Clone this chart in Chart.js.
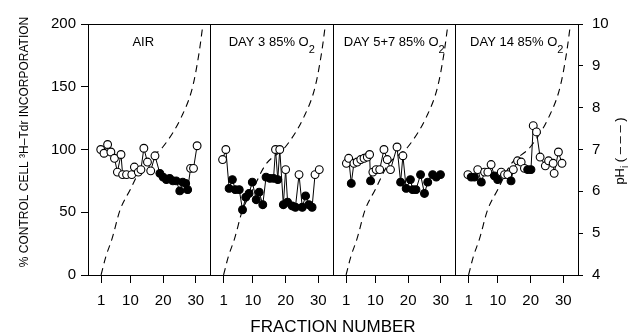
<!DOCTYPE html>
<html>
<head>
<meta charset="utf-8">
<script src="https://cdn.jsdelivr.net/npm/chart.js@4/dist/chart.umd.min.js"></script>
<style>
  html, body { margin: 0; padding: 0; background: #fff; }
  #wrap { width: 632px; height: 336px; }
</style>
</head>
<body>
<div id="wrap"><canvas id="chart" width="632" height="336"></canvas></div>
<script>
// ── DATA ──────────────────────────────────────────────────────────
const PANEL_TITLES = ['AIR', 'DAY 3 85% O', 'DAY 5+7 85% O', 'DAY 14 85% O'];
const PANEL_SUBS   = ['', '2', '2', '2'];
const FRACTION_TICKS = [1, 10, 20, 30];

// fill: 1 = filled circle, 0 = open circle
const airFrac = [0.9, 1.9, 3.0, 4.0, 5.1, 6.0, 7.1, 7.6, 8.8, 10.4, 11.2, 12.4, 13.2, 14.1, 15.2, 16.2, 17.5,
                 19.0, 20.0, 21.0, 22.0, 23.0, 24.0, 25.1, 26.0, 26.9, 27.5, 28.4, 29.3, 30.4];
const airVal  = [100, 97, 104, 98, 93, 82, 96, 80, 80, 80, 86, 82, 84, 101, 90, 83, 95,
                 81, 78, 76, 77, 75, 75, 67, 74, 73, 68, 85, 85, 103];
const airFill = [0, 0, 0, 0, 0, 0, 0, 0, 0, 0, 0, 0, 0, 0, 0, 0, 0,
                 1, 1, 1, 1, 1, 1, 1, 1, 1, 1, 0, 0, 0];

const day3Frac = [0.7, 1.7, 2.7, 3.7, 4.6, 5.8, 6.8, 7.8, 8.8, 9.8, 11.0, 11.9, 13.0, 14.0, 15.2, 16.3,
                  16.9, 17.6, 18.2, 19.3, 20.0, 20.6, 22.0, 23.0, 24.1, 25.1, 26.1, 27.1, 28.1, 29.0, 30.3];
const day3Val  = [92, 100, 69, 76, 68, 68, 52, 62, 65, 74, 60, 66, 56, 78, 77, 77,
                  100, 76, 100, 56, 84, 58, 55, 54, 80, 54, 63, 56, 54, 80, 84];
const day3Fill = [0, 0, 1, 1, 1, 1, 1, 1, 1, 1, 1, 1, 1, 1, 1, 1,
                  0, 1, 0, 1, 0, 1, 1, 1, 0, 1, 1, 1, 1, 0, 0];

const day57Frac = [1.1, 1.8, 2.6, 3.4, 4.4, 5.5, 6.5, 7.5, 8.2, 8.5, 9.2, 10.2, 11.3, 12.6, 13.6,
                   14.6, 16.6, 17.7, 18.4, 19.4, 20.7, 21.4, 22.4, 23.8, 25.0, 26.0, 27.5, 28.6, 29.9];
const day57Val  = [89, 93, 73, 89, 90, 92, 93, 94, 96, 75, 82, 84, 84, 100, 92,
                   84, 102, 74, 95, 69, 76, 68, 68, 80, 65, 74, 80, 78, 80];
const day57Fill = [0, 0, 1, 0, 0, 0, 0, 0, 0, 1, 0, 0, 0, 0, 0,
                   0, 0, 1, 0, 1, 1, 1, 1, 1, 1, 1, 1, 1, 1];

const day14Frac = [0.8, 1.8, 2.8, 3.8, 4.9, 5.9, 6.9, 7.9, 8.9, 9.9, 11.0, 12.0, 13.0, 14.0, 14.7,
                   16.0, 17.1, 18.1, 19.1, 20.1, 20.8, 21.8, 22.9, 24.5, 25.5, 26.9, 27.2, 28.5, 29.6];
const day14Val  = [80, 78, 78, 84, 74, 82, 82, 88, 79, 76, 82, 80, 80, 75, 84,
                   91, 90, 85, 84, 84, 119, 114, 94, 87, 91, 89, 81, 98, 89];
const day14Fill = [0, 1, 1, 0, 1, 0, 0, 0, 1, 1, 0, 0, 0, 1, 0,
                   0, 0, 0, 1, 1, 0, 0, 0, 0, 0, 0, 0, 0, 0];

// pH gradient (dashed), same in every panel
const phFrac = [1, 2.5, 4.3, 6.8, 10, 13.8, 19.9, 25.6, 29.0, 31.0, 32.2];
const phVal  = [4.0, 4.45, 4.85, 5.55, 6.05, 6.63, 7.06, 7.78, 8.49, 9.31, 10.0];

// ── PANEL LAYOUT ON ONE LINEAR AXIS ───────────────────────────────
const PANEL_SPAN = 37.5;   // fraction units per panel
const PANEL_LEFT = -3;     // fraction value at each panel's left edge
const N_PANELS   = 4;

const panels = [
  { frac: airFrac,   val: airVal,   fill: airFill },
  { frac: day3Frac,  val: day3Val,  fill: day3Fill },
  { frac: day57Frac, val: day57Val, fill: day57Fill },
  { frac: day14Frac, val: day14Val, fill: day14Fill }
];

const gx = (p, f) => p * PANEL_SPAN + (f - PANEL_LEFT);
const isEdge = v => v > 0 && v < PANEL_SPAN * N_PANELS && Math.abs(v % PANEL_SPAN) < 1e-9;

const FONT = "'Liberation Sans', Arial, sans-serif";
Chart.defaults.font.family = FONT;
Chart.defaults.color = '#000';

const datasets = [];
panels.forEach((pn, p) => {
  datasets.push({
    data: pn.frac.map((f, i) => ({ x: gx(p, f), y: pn.val[i] })),
    yAxisID: 'y',
    borderColor: '#000',
    borderWidth: 1,
    pointRadius: 3.9,
    pointBorderWidth: 1.1,
    pointBorderColor: '#000',
    pointBackgroundColor: pn.fill.map(v => v ? '#000' : '#fff'),
    order: 0
  });
});
for (let p = 0; p < N_PANELS; p++) {
  datasets.push({
    data: phFrac.map((f, i) => ({ x: gx(p, f), y: phVal[i] })),
    yAxisID: 'y2',
    borderColor: '#000',
    borderWidth: 1.1,
    borderDash: [7, 5],
    pointRadius: 0,
    cubicInterpolationMode: 'monotone',
    order: 1
  });
}

// ── TEXT + FRAME ──────────────────────────────────────────────────
const decorPlugin = {
  id: 'decor',
  afterDraw(chart) {
    const { ctx, chartArea: a, scales } = chart;
    const xs = scales.x;
    ctx.save();
    ctx.strokeStyle = '#000';
    ctx.lineWidth = 1;
    ctx.beginPath();
    ctx.moveTo(a.left, a.top + 0.5);
    ctx.lineTo(a.right, a.top + 0.5);
    ctx.stroke();

    // panel titles
    ctx.fillStyle = '#000';
    ctx.textBaseline = 'alphabetic';
    ctx.textAlign = 'left';
    PANEL_TITLES.forEach((t, p) => {
      const l = xs.getPixelForValue(p * PANEL_SPAN);
      const r = xs.getPixelForValue((p + 1) * PANEL_SPAN);
      ctx.font = '13px ' + FONT;
      const w1 = ctx.measureText(t).width;
      ctx.font = '11px ' + FONT;
      const w2 = PANEL_SUBS[p] ? ctx.measureText(PANEL_SUBS[p]).width : 0;
      const x0 = (l + r) / 2 - (w1 + w2) / 2 - (p === 0 ? 6 : 0);
      ctx.font = '13px ' + FONT;
      ctx.fillText(t, x0, 46);
      if (PANEL_SUBS[p]) {
        ctx.font = '11px ' + FONT;
        ctx.fillText(PANEL_SUBS[p], x0 + w1, 53);
      }
    });

    // x title
    ctx.font = '17px ' + FONT;
    ctx.textAlign = 'center';
    ctx.textBaseline = 'middle';
    ctx.fillText('FRACTION NUMBER', (a.left + a.right) / 2, 327);

    // left title
    ctx.save();
    ctx.translate(25, 142);
    ctx.rotate(-Math.PI / 2);
    ctx.font = '12px ' + FONT;
    ctx.fillText('% CONTROL CELL \u00B3H\u2013Tdr INCORPORATION', 0, 0);
    ctx.restore();

    // right title: pH_i (- - -)
    ctx.save();
    ctx.translate(620, 151);
    ctx.rotate(-Math.PI / 2);
    ctx.textAlign = 'left';
    ctx.font = '13px ' + FONT;
    const pa = 'pH', pc = ' ( \u2013 \u2013 \u2013 )';
    const wa = ctx.measureText(pa).width, wc = ctx.measureText(pc).width;
    ctx.font = '10px ' + FONT;
    const wb = ctx.measureText('i').width;
    let x = -(wa + wb + wc) / 2;
    ctx.font = '13px ' + FONT;
    ctx.fillText(pa, x, 0);
    ctx.font = '10px ' + FONT;
    ctx.fillText('i', x + wa, 5);
    ctx.font = '13px ' + FONT;
    ctx.fillText(pc, x + wa + wb, 0);
    ctx.restore();

    ctx.restore();
  }
};

new Chart(document.getElementById('chart'), {
  type: 'line',
  data: { datasets },
  options: {
    responsive: false,
    animation: false,
    layout: { padding: { top: 24, left: 0, right: 0, bottom: 0 } },
    plugins: { legend: { display: false }, tooltip: { enabled: false } },
    scales: {
      x: {
        type: 'linear',
        min: 0,
        max: PANEL_SPAN * N_PANELS,
        afterFit(s) { s.height = 61; },
        afterBuildTicks(s) {
          const t = [];
          for (let p = 0; p < N_PANELS; p++) {
            if (p > 0) t.push({ value: p * PANEL_SPAN });
            FRACTION_TICKS.forEach(f => t.push({ value: gx(p, f) }));
          }
          s.ticks = t;
        },
        ticks: {
          autoSkip: false,
          maxRotation: 0,
          padding: 9,
          font: { size: 15 },
          color: '#000',
          callback(v) {
            if (isEdge(v)) return '';
            const local = v - Math.floor(v / PANEL_SPAN) * PANEL_SPAN + PANEL_LEFT;
            return String(Math.round(local));
          }
        },
        grid: {
          drawOnChartArea: true,
          drawTicks: true,
          tickLength: 8,
          lineWidth: 1,
          color: c => (c.tick && isEdge(c.tick.value)) ? '#000' : 'rgba(0,0,0,0)',
          tickColor: c => (c.tick && isEdge(c.tick.value)) ? 'rgba(0,0,0,0)' : '#000'
        },
        border: { display: true, color: '#000', width: 1 }
      },
      y: {
        position: 'left',
        min: 0,
        max: 200,
        afterFit(s) { s.width = 88; },
        ticks: { stepSize: 50, padding: 5, font: { size: 15 }, color: '#000' },
        grid: { drawOnChartArea: false, tickLength: 7, color: '#000' },
        border: { display: true, color: '#000', width: 1 }
      },
      y2: {
        position: 'right',
        min: 4,
        max: 10,
        afterFit(s) { s.width = 54; },
        ticks: { stepSize: 1, padding: 9, font: { size: 15 }, color: '#000' },
        grid: { drawOnChartArea: false, tickLength: 5, color: '#000' },
        border: { display: true, color: '#000', width: 1 }
      }
    }
  },
  plugins: [decorPlugin]
});
</script>
</body>
</html>
